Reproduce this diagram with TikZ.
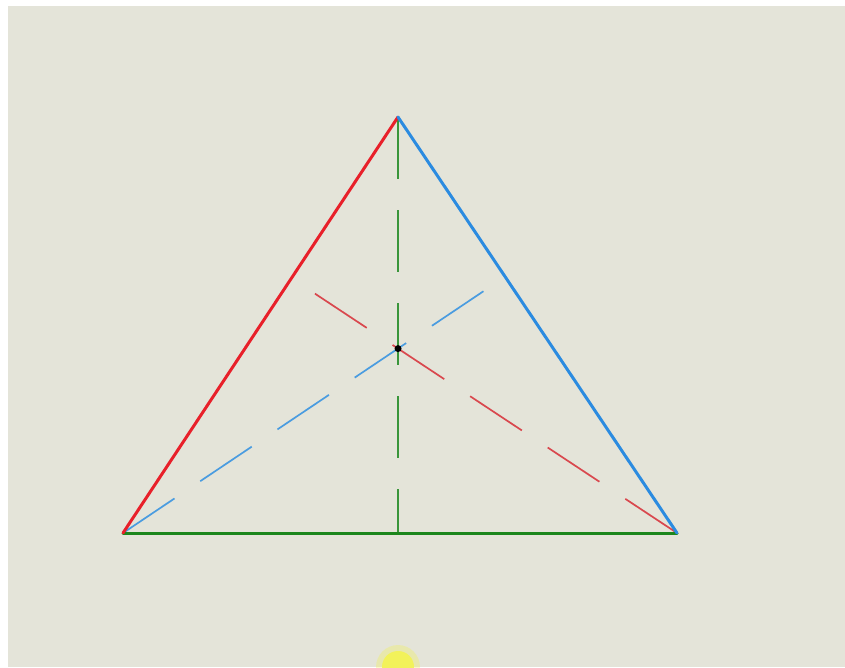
\documentclass[tikz,border=0pt]{standalone}
\usetikzlibrary{calc}
\definecolor{bgc}{HTML}{E4E4D9}
\definecolor{sidered}{HTML}{E8202A}
\definecolor{sideblue}{HTML}{2B8BE0}
\definecolor{sidegreen}{HTML}{1C861C}
\definecolor{altred}{HTML}{D9484E}
\definecolor{altblue}{HTML}{4A9CE0}
\definecolor{altgreen}{HTML}{3A953A}
\definecolor{cursorc}{HTML}{F2F25A}
\tikzset{
  side/.style={line width=3pt, line cap=round, line join=round},
  altitude/.style={line width=1.7pt, dash pattern=on 62pt off 31pt, line cap=butt},
}
\begin{document}
\begin{tikzpicture}[x=1pt,y=-1pt]
\fill[white] (0,0) rectangle (845,667);
\fill[bgc] (8,6) rectangle (845,667);
\useasboundingbox (0,0) rectangle (845,667);
\coordinate (A) at (398,117);
\coordinate (B) at (123,533);
\coordinate (C) at (677,533);
\coordinate (D) at (398,533);
\coordinate (E) at ($(A)!(B)!(C)$);
\coordinate (F) at ($(A)!(C)!(B)$);
\coordinate (H) at (intersection of B--E and A--D);
% altitudes
\draw[altitude, altgreen] (A) -- (D);
\draw[altitude, altred] (C) -- (F);
\draw[altitude, altblue] (B) -- (E);
% sides
\draw[side, sidegreen] (B) -- (C);
\draw[side, sidered] (B) -- (A);
\draw[side, sideblue] (A) -- (C);
% orthocenter
\fill[black] (H) circle (3.5pt);
% cursor highlight
\begin{scope}
\clip (0,0) rectangle (845,667);
\fill[cursorc, opacity=0.35] (398,667) circle (22pt);
\fill[cursorc] (398,667) circle (16pt);
\end{scope}
\end{tikzpicture}
\end{document}
